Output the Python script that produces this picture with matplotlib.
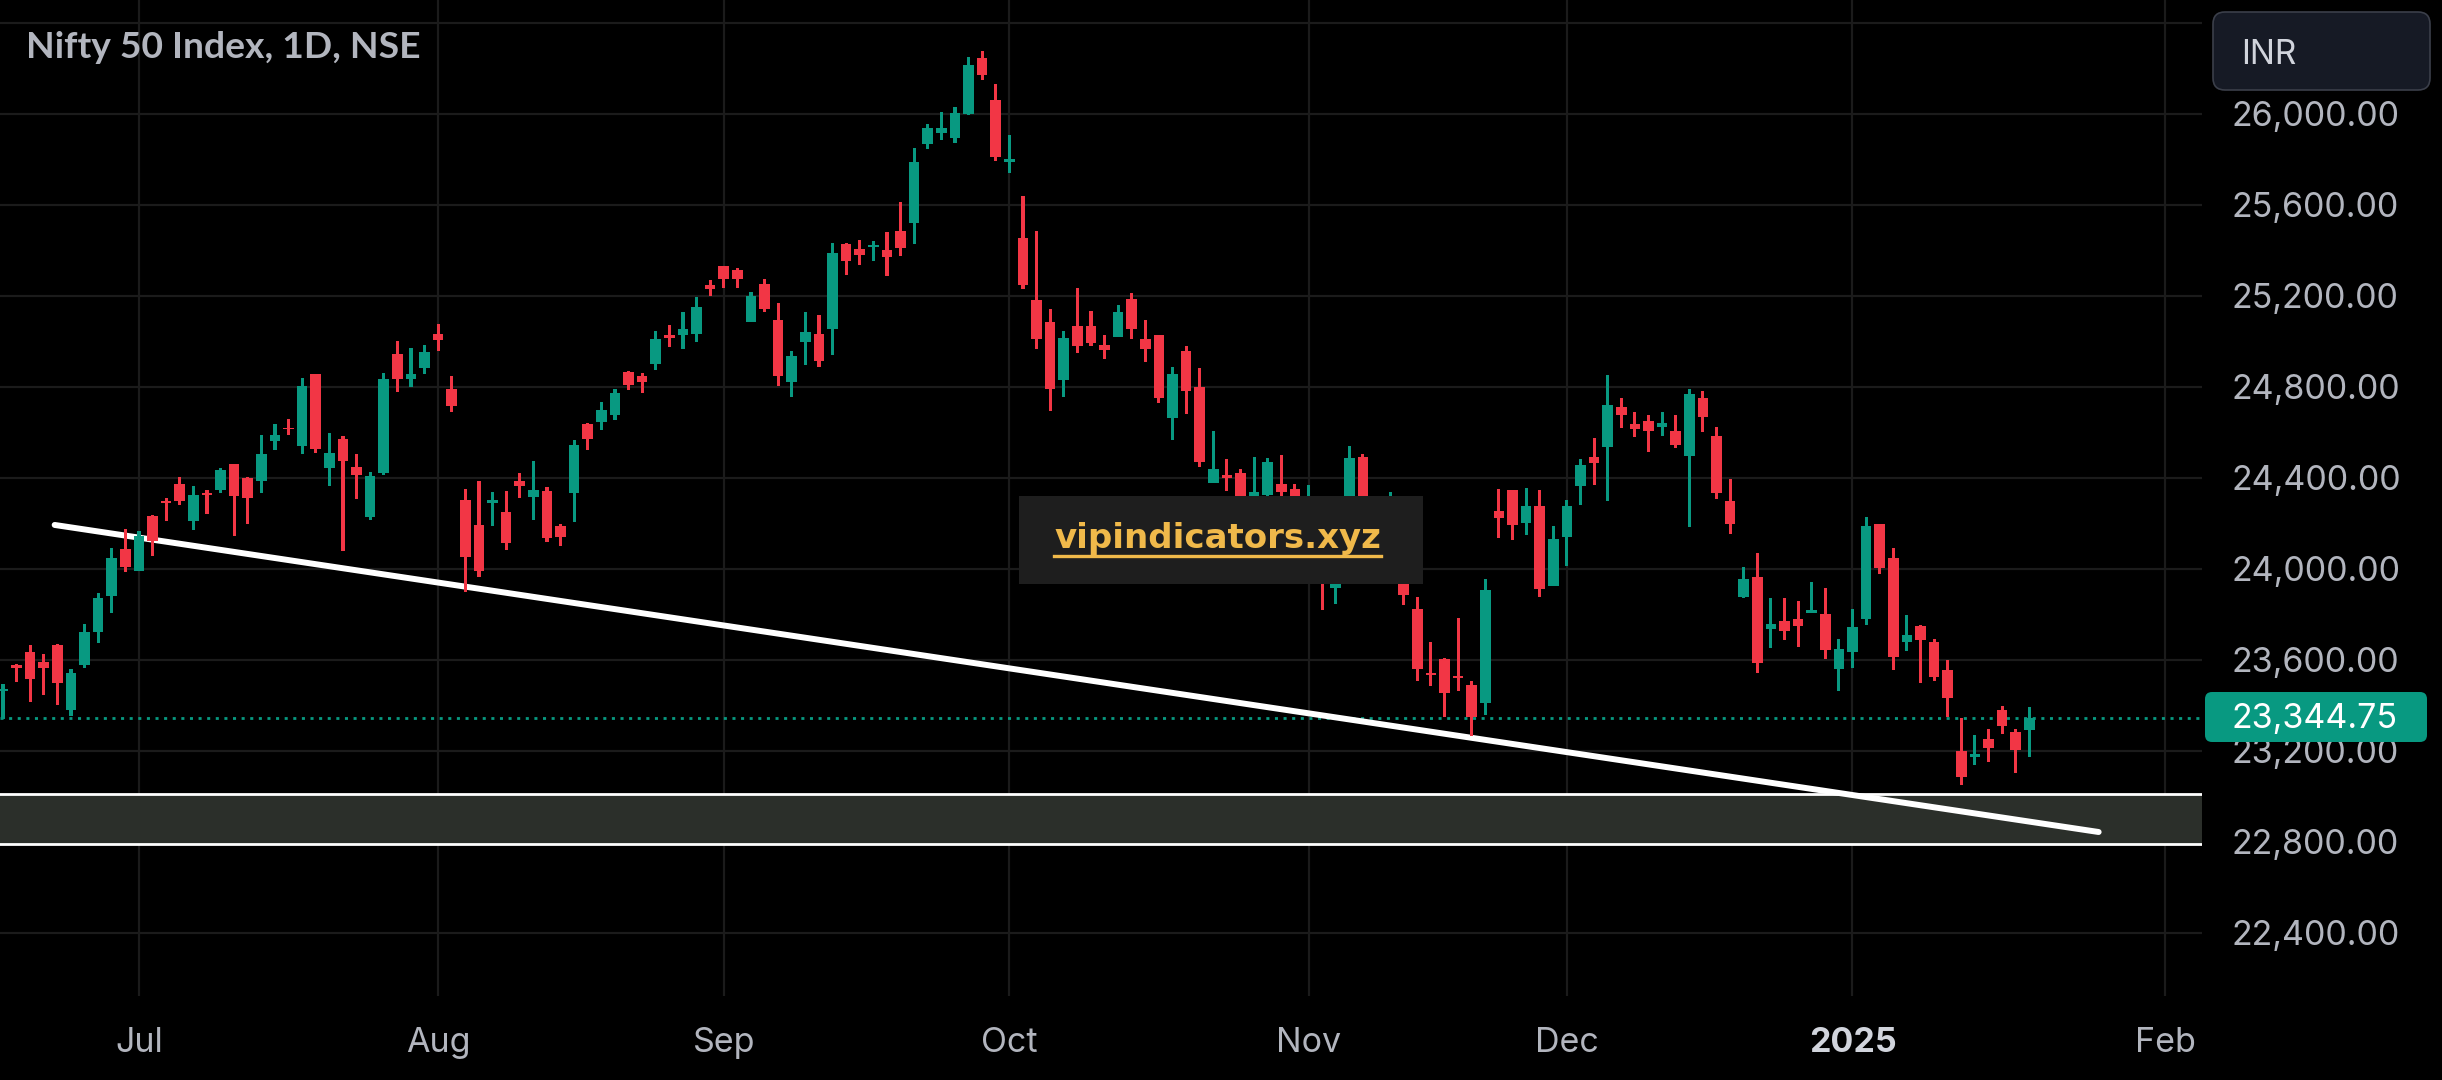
import matplotlib
matplotlib.use("Agg")
import matplotlib.pyplot as plt
from matplotlib.patches import Rectangle, FancyBboxPatch
from matplotlib.transforms import IdentityTransform
from matplotlib.lines import Line2D
import numpy as np

# daily OHLC, 14 Jun 2024 .. 20 Jan 2025 (one entry per session)
opens = [23462, 23577, 23634, 23590, 23665, 23381, 23578, 23723, 23882, 24087,
         23992, 24232, 24298, 24373, 24212, 24335, 24348, 24461, 24399, 24387, 24563,
         24615, 24541, 24857, 24445, 24571, 24448, 24230, 24421, 24945, 24836, 24884,
         25032, 24790, 24303, 24193, 24291, 24250, 24386, 24317, 24342, 24188, 24335,
         24637, 24647, 24678, 24865, 24848, 24901, 25028, 25028, 25034, 25248,
         25331, 25314, 25087, 25252, 25094, 24823, 24999, 25032, 25056, 25428, 25406,
         25414, 25402, 25485, 25522, 25869, 25918, 25896, 26001, 26246, 26062,
         25790, 25455, 25182, 25086, 24832, 25068, 25068, 24984, 25021, 25186, 25010,
         25028, 24664, 24958, 24800, 24379, 24412, 24421, 24251, 24325, 24373, 24351,
         24302, 24315, 23917, 24309, 24492, 24207, 24087, 24225, 23823, 23542, 23605,
         23529, 23488, 23411, 24254, 24347, 24203, 24277, 23926,
         24141, 24365, 24492, 24537, 24711, 24637, 24652, 24622, 24606, 24497, 24753,
         24585, 24298, 23877, 23964, 23737, 23771, 23779, 23807, 23801, 23561,
         23636, 23781, 24197, 24048, 23680, 23748, 23678, 23555, 23199, 23174, 23252,
         23379, 23282, 23293]
highs = [23492, 23581, 23665, 23625, 23669, 23560, 23757, 23894, 24092, 24175,
         24166, 24236, 24311, 24402, 24364, 24347, 24443, 24461, 24403, 24590, 24635,
         24661, 24839, 24857, 24597, 24584, 24505, 24424, 24861, 25002, 24971, 24984,
         25076, 24850, 24351, 24386, 24338, 24342, 24421, 24474, 24360, 24197, 24566,
         24641, 24733, 24791, 24870, 24861, 25046, 25072, 25129, 25195, 25270,
         25331, 25322, 25217, 25274, 25169, 24958, 25129, 25116, 25433, 25433, 25445,
         25441, 25482, 25612, 25850, 25956, 26009, 26030, 26250, 26277, 26132,
         25907, 25639, 25485, 25142, 25046, 25235, 25134, 25028, 25160, 25212, 25094,
         25028, 24887, 24980, 24883, 24606, 24483, 24440, 24492, 24487, 24500, 24373,
         24369, 24316, 24229, 24540, 24505, 24276, 24338, 24242, 23876, 23678, 23606,
         23784, 23507, 23956, 24351, 24347, 24355, 24347, 24188,
         24303, 24483, 24575, 24852, 24751, 24690, 24677, 24691, 24675, 24792, 24781,
         24624, 24395, 24008, 24070, 23873, 23873, 23859, 23942, 23916, 23691,
         23823, 24228, 24197, 24092, 23797, 23753, 23691, 23599, 23344, 23269, 23296,
         23397, 23296, 23392]
lows = [23338, 23504, 23416, 23445, 23401, 23354, 23565, 23675, 23807, 23987,
        23992, 24056, 24212, 24282, 24171, 24242, 24335, 24146, 24198, 24332, 24522,
        24587, 24506, 24510, 24365, 24080, 24307, 24215, 24414, 24779, 24801, 24858,
        24959, 24691, 23899, 23965, 24190, 24084, 24313, 24216, 24119, 24101, 24207,
        24524, 24612, 24656, 24788, 24774, 24876, 24977, 24968, 24999, 25201,
        25236, 25236, 25087, 25130, 24805, 24757, 24897, 24889, 24941, 25293, 25337,
        25355, 25289, 25377, 25430, 25847, 25887, 25874, 25997, 26149, 25795,
        25742, 25232, 24968, 24695, 24757, 24950, 24981, 24924, 25021, 25012, 24911,
        24730, 24568, 24682, 24449, 24378, 24343, 24074, 24134, 24140, 24307, 24172,
        24280, 23819, 23846, 24204, 24179, 24066, 24004, 23839, 23509, 23484, 23350,
        23464, 23264, 23359, 24137, 24128, 24150, 23877, 23926,
        24014, 24282, 24370, 24300, 24620, 24581, 24514, 24585, 24531, 24185, 24601,
        24308, 24154, 23873, 23543, 23653, 23688, 23657, 23805, 23605, 23464,
        23565, 23754, 23979, 23556, 23640, 23499, 23508, 23350, 23051, 23139, 23152,
        23275, 23104, 23174]
closes = [23473, 23565, 23517, 23565, 23499, 23542, 23722, 23872, 24048, 24009,
          24144, 24124, 24288, 24300, 24325, 24323, 24434, 24322, 24313, 24505, 24587,
          24613, 24804, 24528, 24509, 24475, 24414, 24408, 24834, 24835, 24857, 24953,
          25007, 24716, 24053, 23992, 24303, 24115, 24365, 24347, 24137, 24141, 24544,
          24572, 24698, 24773, 24810, 24823, 25010, 25016, 25055, 25151, 25232,
          25276, 25276, 25200, 25144, 24849, 24936, 25041, 24915, 25389, 25355, 25381,
          25424, 25372, 25412, 25789, 25938, 25938, 26004, 26215, 26173, 25809,
          25802, 25249, 25012, 24792, 25015, 24981, 24994, 24963, 25129, 25056, 24968,
          24749, 24857, 24780, 24471, 24439, 24398, 24181, 24339, 24470, 24338, 24205,
          24304, 23995, 24213, 24487, 24199, 24148, 24141, 23883, 23559, 23532, 23453,
          23518, 23350, 23907, 24222, 24194, 24277, 23913, 24131,
          24277, 24456, 24467, 24720, 24677, 24616, 24606, 24641, 24544, 24768, 24668,
          24335, 24198, 23955, 23587, 23757, 23728, 23750, 23819, 23644, 23647,
          23744, 24188, 24005, 23614, 23709, 23688, 23526, 23433, 23086, 23186, 23213,
          23310, 23205, 23344.75]

# first session of each month (bar index) and its axis label
month_pos = [10, 32, 53, 74, 96, 115, 136, 159]
month_labels = ["Jul", "Aug", "Sep", "Oct", "Nov", "Dec", "2025", "Feb"]

price_ticks = [22400, 22800, 23200, 23600, 24000, 24400, 24800, 25200, 25600, 26000]
last_price = 23344.75
zone_low, zone_high = 22789, 23008
trend_x = [3.8, 154.1]
trend_y = [24193, 22843]

GREEN = "#089981"
RED = "#f23645"
GRID = "#1b1b1b"
TXT = "#b2b5be"

plt.rcParams["font.family"] = ["Inter", "DejaVu Sans"]

W, H = 2442, 1080
fig = plt.figure(figsize=(W / 100, H / 100), dpi=100, facecolor="black")
ax = fig.add_axes([0, 84 / H, 2202 / W, 996 / H])
ax.set_facecolor("black")
ax.set_xlim(-0.22, 161.7)
ax.set_ylim(22122, 26501)
for s in ax.spines.values():
    s.set_visible(False)

o = np.array(opens, float)
h = np.array(highs, float)
l = np.array(lows, float)
c = np.array(closes, float)
x = np.arange(len(o))
cols = np.where(c >= o, GREEN, RED)

ax.bar(x, h - l, bottom=l, width=0.23, color=cols, linewidth=0, zorder=3)
ax.bar(x, np.maximum(np.abs(c - o), 5), bottom=np.minimum(o, c), width=0.78,
       color=cols, linewidth=0, zorder=3)

# support zone + trendline
ax.axhspan(zone_low, zone_high, facecolor="#2b2f2a", edgecolor="none", zorder=1)
ax.axhline(zone_high, color="white", lw=2, zorder=1.5)
ax.axhline(zone_low, color="white", lw=2, zorder=1.5)
ax.plot(trend_x, trend_y, color="white", lw=4.3, solid_capstyle="round", zorder=2.5)

# last price line
ax.axhline(last_price, color=GREEN, lw=2.0, linestyle=(0, (1.1, 2.0)), zorder=2.4)

# grid
ax.set_axisbelow(True)
ax.grid(True, color=GRID, lw=1.6)
ax.axhline(26400, color=GRID, lw=1.6, zorder=0.5)

ax.yaxis.tick_right()
ax.set_yticks(price_ticks)
ax.set_yticklabels([f"{v:,.2f}" for v in price_ticks])
ax.tick_params(axis="y", length=0, pad=21, labelsize=24.5, labelcolor=TXT)
ax.set_xticks(month_pos)
ax.set_xticklabels(month_labels)
ax.tick_params(axis="x", length=0, pad=22, labelsize=24.5, labelcolor=TXT)
yr = ax.get_xticklabels()[month_labels.index("2025")]
yr.set_fontweight("bold")
yr.set_color("#d1d4dc")

px = IdentityTransform()

# title
fig.text(26 / W, 1 - 48 / H, "Nifty 50 Index, 1D, NSE", family=["Lato", "DejaVu Sans"],
         weight="bold", size=26.8, color=TXT, ha="left", va="center")

# currency box
fig.add_artist(FancyBboxPatch((2213, H - 90), 217, 78, boxstyle="round,pad=0,rounding_size=12",
                              fc="#161a25", ec="#3b3f4a", lw=1.2, transform=px, zorder=10))
fig.text(2241 / W, 1 - 52 / H, "INR", size=24, color="#d1d4dc", ha="left",
         va="center_baseline", zorder=11)

# last price label
fig.add_artist(FancyBboxPatch((2205, H - 742), 222, 50, boxstyle="round,pad=0,rounding_size=7",
                              fc=GREEN, ec="none", transform=px, zorder=10))
fig.text(2231 / W, 1 - 716 / H, f"{last_price:,.2f}", size=24.5, color="white",
         ha="left", va="center_baseline", zorder=11)

# watermark
fig.add_artist(Rectangle((1019, H - 584), 404, 88, fc="#1e1e1e", ec="none",
                         transform=px, zorder=10))
wm = fig.text(1217.5 / W, 1 - 548 / H, "vipindicators.xyz", family="DejaVu Sans",
              weight="bold", size=24.5, color="#f0b94a", ha="center", va="baseline", zorder=11)
fig.canvas.draw()
bb = wm.get_window_extent()
fig.add_artist(Line2D([bb.x0, bb.x1], [H - 556, H - 556], color="#f0b94a", lw=2.4,
                      transform=px, zorder=11))

fig.savefig("out.png", dpi=100, facecolor="black")
